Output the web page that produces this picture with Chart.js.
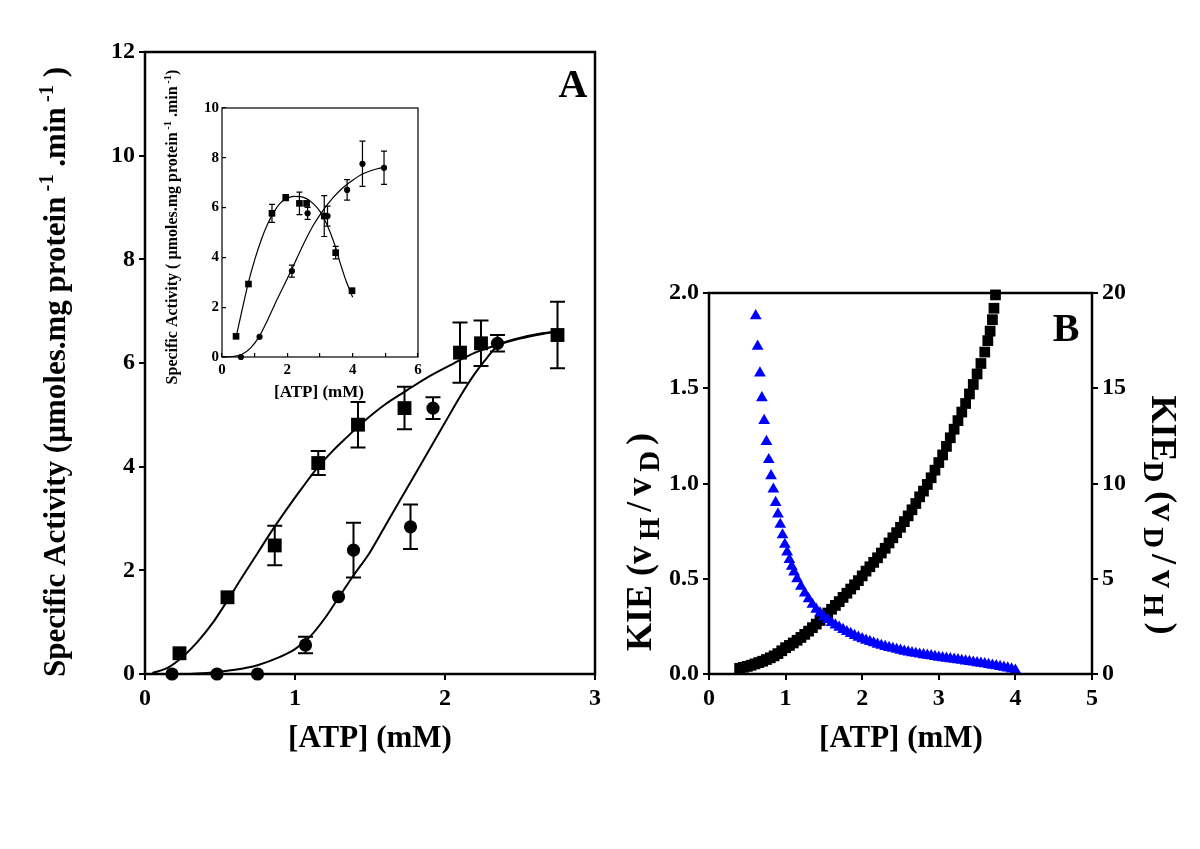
<!DOCTYPE html>
<html>
<head>
<meta charset="utf-8">
<script src="https://cdn.jsdelivr.net/npm/chart.js@4.4.0/dist/chart.umd.min.js"></script>
<style>
  body { margin: 0; background: #fff; }
  #wrap { position: relative; width: 1200px; height: 849px; background: #fff; overflow: hidden; }
  canvas { position: absolute; }
</style>
</head>
<body>
<div id="wrap">
  <canvas id="chartA" width="620" height="780" style="left:0;top:0"></canvas>
  <canvas id="chartInset" width="280" height="360" style="left:150px;top:45px"></canvas>
  <canvas id="chartB" width="580" height="520" style="left:620px;top:260px"></canvas>
</div>
<script>
// ---- panel A, main plot: [ATP] (mM) vs specific activity ----
const aSqX   = [0.23, 0.55, 0.865, 1.155, 1.42, 1.73, 2.10, 2.24, 2.75];
const aSqY   = [0.40, 1.48, 2.48, 4.07, 4.81, 5.13, 6.20, 6.38, 6.54];
const aSqErr = [0, 0, 0.38, 0.23, 0.44, 0.41, 0.58, 0.44, 0.64];
const aCiX   = [0.18, 0.48, 0.75, 1.07, 1.29, 1.39, 1.77, 1.92, 2.35];
const aCiY   = [0, 0, 0, 0.56, 1.49, 2.39, 2.84, 5.13, 6.38];
const aCiErr = [0, 0, 0, 0.16, 0, 0.53, 0.43, 0.21, 0.16];
// fitted curves
const aSqFitX = [0.05, 0.15, 0.25, 0.35, 0.45, 0.55, 0.65, 0.75, 0.85, 0.95, 1.05, 1.15, 1.25, 1.35, 1.45, 1.6, 1.75, 1.9, 2.05, 2.2, 2.35, 2.5, 2.65, 2.77];
const aSqFitY = [0.02, 0.12, 0.33, 0.62, 0.98, 1.42, 1.88, 2.33, 2.78, 3.2, 3.6, 3.98, 4.3, 4.58, 4.85, 5.2, 5.48, 5.75, 5.98, 6.2, 6.35, 6.47, 6.56, 6.62];
const aCiFitX = [0.30, 0.45, 0.6, 0.75, 0.9, 1.0, 1.1, 1.2, 1.29, 1.39, 1.5, 1.6, 1.7, 1.8, 1.9, 2.0, 2.1, 2.2, 2.28, 2.35, 2.45, 2.6, 2.77];
const aCiFitY = [0.0, 0.03, 0.08, 0.17, 0.33, 0.48, 0.72, 1.08, 1.47, 1.9, 2.35, 2.85, 3.35, 3.85, 4.35, 4.85, 5.35, 5.8, 6.1, 6.33, 6.45, 6.55, 6.62];

// ---- panel A, inset ----
const inSqX   = [0.43, 0.81, 1.53, 1.95, 2.37, 2.59, 3.13, 3.48, 3.98];
const inSqY   = [0.83, 2.93, 5.77, 6.40, 6.17, 6.17, 5.66, 4.19, 2.66];
const inSqErr = [0, 0, 0.36, 0.12, 0.45, 0.10, 0.82, 0.25, 0.10];
const inCiX   = [0.58, 1.15, 2.14, 2.62, 3.23, 3.83, 4.30, 4.96];
const inCiY   = [0, 0.81, 3.45, 5.77, 5.66, 6.71, 7.76, 7.60];
const inCiErr = [0, 0, 0.24, 0.24, 0.40, 0.41, 0.91, 0.67];
const inSqFitX = [0.43, 0.6, 0.8, 1.0, 1.2, 1.4, 1.6, 1.8, 2.0, 2.2, 2.4, 2.6, 2.8, 3.0, 3.2, 3.4, 3.5, 3.6, 3.8, 4.0];
const inSqFitY = [0.8, 1.8, 2.95, 3.9, 4.7, 5.35, 5.85, 6.2, 6.38, 6.45, 6.44, 6.35, 6.15, 5.85, 5.35, 4.7, 4.3, 3.85, 3.05, 2.4];
const inCiFitX = [0.0, 0.3, 0.6, 0.9, 1.15, 1.4, 1.7, 2.0, 2.2, 2.5, 2.8, 3.1, 3.4, 3.7, 4.0, 4.3, 4.6, 4.96];
const inCiFitY = [0.0, 0.02, 0.1, 0.4, 0.85, 1.5, 2.35, 3.15, 3.7, 4.55, 5.3, 5.9, 6.4, 6.8, 7.1, 7.35, 7.5, 7.62];

// ---- panel B: KIE (left axis) and KIE_D (right axis) ----
const bSqX = [0.40, 0.45, 0.50, 0.55, 0.60, 0.65, 0.70, 0.75, 0.80, 0.85, 0.90, 0.95, 1.00, 1.05, 1.10, 1.15, 1.20, 1.25, 1.30, 1.35,
              1.40, 1.45, 1.50, 1.55, 1.60, 1.65, 1.70, 1.75, 1.80, 1.85, 1.90, 1.95, 2.00, 2.05, 2.10, 2.15, 2.20, 2.25, 2.30, 2.35,
              2.40, 2.45, 2.50, 2.55, 2.60, 2.65, 2.70, 2.75, 2.80, 2.85, 2.90, 2.95, 3.00, 3.05, 3.10, 3.15, 3.20, 3.25, 3.30, 3.35,
              3.40, 3.45, 3.50, 3.55, 3.60, 3.64, 3.67, 3.70, 3.72, 3.74];
const bSqY = [0.030, 0.035, 0.040, 0.046, 0.053, 0.060, 0.067, 0.076, 0.085, 0.095, 0.107, 0.122, 0.138, 0.150, 0.163, 0.177, 0.192, 0.208, 0.225, 0.243,
              0.262, 0.281, 0.300, 0.320, 0.340, 0.360, 0.380, 0.402, 0.424, 0.446, 0.468, 0.490, 0.515, 0.540, 0.563, 0.586, 0.610, 0.635, 0.660, 0.688,
              0.715, 0.742, 0.770, 0.800, 0.830, 0.862, 0.895, 0.930, 0.960, 0.995, 1.030, 1.070, 1.110, 1.150, 1.195, 1.240, 1.285, 1.330, 1.375, 1.420,
              1.470, 1.520, 1.575, 1.630, 1.690, 1.750, 1.800, 1.860, 1.920, 1.990];
const bTriX = [0.61, 0.635, 0.665, 0.69, 0.72, 0.75, 0.78, 0.81, 0.84, 0.87, 0.90, 0.93, 0.96, 0.99, 1.02, 1.05, 1.08, 1.11, 1.15, 1.20,
               1.25, 1.30, 1.35, 1.40, 1.45, 1.50, 1.55, 1.60, 1.65, 1.70, 1.75, 1.80, 1.85, 1.90, 1.95, 2.00, 2.05, 2.10, 2.15, 2.20,
               2.25, 2.30, 2.35, 2.40, 2.45, 2.50, 2.55, 2.60, 2.65, 2.70, 2.75, 2.80, 2.85, 2.90, 2.95, 3.00, 3.05, 3.10, 3.15, 3.20,
               3.25, 3.30, 3.35, 3.40, 3.45, 3.50, 3.55, 3.60, 3.65, 3.70, 3.75, 3.80, 3.85, 3.90, 3.95, 4.00];
const bTriY = [18.8, 17.2, 15.8, 14.5, 13.3, 12.2, 11.25, 10.4, 9.7, 9.0, 8.4, 7.85, 7.3, 6.8, 6.4, 6.0, 5.65, 5.35, 5.0, 4.6,
               4.25, 3.95, 3.65, 3.4, 3.2, 3.0, 2.85, 2.7, 2.57, 2.45, 2.33, 2.22, 2.12, 2.02, 1.93, 1.85, 1.77, 1.70, 1.63, 1.56,
               1.50, 1.44, 1.39, 1.34, 1.29, 1.24, 1.19, 1.15, 1.11, 1.08, 1.04, 1.01, 0.98, 0.95, 0.91, 0.88, 0.85, 0.82, 0.80, 0.77,
               0.74, 0.71, 0.68, 0.65, 0.62, 0.59, 0.56, 0.53, 0.50, 0.46, 0.43, 0.39, 0.35, 0.31, 0.26, 0.20];

const FONT = '"Liberation Serif", "Times New Roman", Times, serif';
Chart.defaults.font.family = FONT;
Chart.defaults.font.weight = 'bold';
Chart.defaults.color = '#000';

const pts = (xs, ys) => xs.map((x, i) => ({ x: x, y: ys[i] }));

// text with super/subscripts, centred on (x, y); segment = [text, 'sup'|'sub'|'', letterSpacing]
function drawRich(ctx, segs, x, y, rot, size, small) {
  small = small || 0.66;
  ctx.save();
  ctx.translate(x, y);
  ctx.rotate(rot);
  ctx.fillStyle = '#000';
  ctx.textAlign = 'left';
  ctx.textBaseline = 'alphabetic';
  let total = 0;
  const parts = segs.map(s => {
    const kind = s[1] || '';
    const sp = (s[2] || 0) + 'px';
    const sz = kind ? size * small : size;
    ctx.font = 'bold ' + sz + 'px ' + FONT;
    ctx.letterSpacing = sp;
    const w = ctx.measureText(s[0]).width;
    total += w;
    return { t: s[0], kind, sz, w, sp };
  });
  let cx = -total / 2;
  const base = size * 0.33;
  parts.forEach(p => {
    ctx.font = 'bold ' + p.sz + 'px ' + FONT;
    ctx.letterSpacing = p.sp;
    const dy = p.kind === 'sup' ? -size * 0.38 : p.kind === 'sub' ? size * 0.22 : 0;
    ctx.fillText(p.t, cx, base + dy);
    cx += p.w;
  });
  ctx.restore();
}

function errorBars(sets, cap, lw) {
  return {
    id: 'errorBars',
    beforeDatasetsDraw(chart) {
      const ctx = chart.ctx, xs = chart.scales.x, ys = chart.scales.y;
      ctx.save();
      ctx.strokeStyle = '#000';
      ctx.lineWidth = lw;
      sets.forEach(s => {
        s.x.forEach((xv, i) => {
          const e = s.err[i];
          if (!e) return;
          const px = xs.getPixelForValue(xv);
          const top = ys.getPixelForValue(s.y[i] + e);
          const bot = ys.getPixelForValue(s.y[i] - e);
          ctx.beginPath();
          ctx.moveTo(px, top); ctx.lineTo(px, bot);
          ctx.moveTo(px - cap / 2, top); ctx.lineTo(px + cap / 2, top);
          ctx.moveTo(px - cap / 2, bot); ctx.lineTo(px + cap / 2, bot);
          ctx.stroke();
        });
      });
      ctx.restore();
    }
  };
}

function frame(lw) {
  return {
    id: 'frame',
    afterDraw(chart) {
      const a = chart.chartArea, ctx = chart.ctx;
      ctx.save();
      ctx.strokeStyle = '#000';
      ctx.lineWidth = lw;
      ctx.strokeRect(a.left, a.top, a.right - a.left, a.bottom - a.top);
      ctx.restore();
    }
  };
}

function texts(list) {
  return {
    id: 'texts',
    afterDraw(chart) {
      list.forEach(t => drawRich(chart.ctx, t.segs, t.x, t.y, t.rot || 0, t.size, t.small));
    }
  };
}

function axis(min, max, step, size, extra) {
  return Object.assign({
    type: 'linear', min: min, max: max,
    ticks: { stepSize: step, font: { size: size, weight: 'bold' }, color: '#000', padding: 4, maxRotation: 0 },
    grid: { display: true, drawOnChartArea: false, drawTicks: true, tickLength: 6, color: '#000', lineWidth: 2 },
    border: { display: false }
  }, extra);
}

const common = {
  responsive: false, animation: false, devicePixelRatio: 1,
  plugins: { legend: { display: false }, tooltip: { enabled: false } }
};

const markers = (data, style, r, color) => ({
  data: data, pointStyle: style, pointRadius: r, pointBackgroundColor: color,
  pointBorderColor: color, pointBorderWidth: 0, showLine: false, clip: false
});
const curve = (data, lw) => ({
  data: data, showLine: true, pointRadius: 0, borderColor: '#000', borderWidth: lw,
  cubicInterpolationMode: 'monotone', tension: 0.4, fill: false, clip: false
});

// ---- panel A ----
new Chart(document.getElementById('chartA'), {
  type: 'scatter',
  data: { datasets: [
    markers(pts(aSqX, aSqY), 'rect', 9.8, '#000'),
    markers(pts(aCiX, aCiY), 'circle', 6.6, '#000'),
    curve(pts(aSqFitX, aSqFitY), 2),
    curve(pts(aCiFitX, aCiFitY), 2)
  ] },
  options: Object.assign({}, common, {
    layout: { padding: { top: 52, right: 25, left: 0, bottom: 0 } },
    scales: {
      x: axis(0, 3, 1, 24, { afterFit(s) { s.height = 106; } }),
      y: axis(0, 12, 2, 24, { afterFit(s) { s.width = 145; } })
    }
  }),
  plugins: [
    errorBars([{ x: aSqX, y: aSqY, err: aSqErr }, { x: aCiX, y: aCiY, err: aCiErr }], 15, 2),
    frame(2.5),
    texts([
      { segs: [['Specific Activity (µmoles.mg protein'], [' -1', 'sup'], [' .min'], [' -1', 'sup'], [' )']], x: 55, y: 372, rot: -Math.PI / 2, size: 31 },
      { segs: [['[ATP] (mM)']], x: 370, y: 737, size: 31 },
      { segs: [['A']], x: 573, y: 84, size: 40 }
    ])
  ]
});

// ---- inset ----
new Chart(document.getElementById('chartInset'), {
  type: 'scatter',
  data: { datasets: [
    markers(pts(inSqX, inSqY), 'rect', 4.7, '#000'),
    markers(pts(inCiX, inCiY), 'circle', 3.1, '#000'),
    curve(pts(inSqFitX, inSqFitY), 1.2),
    curve(pts(inCiFitX, inCiFitY), 1.2)
  ] },
  options: Object.assign({}, common, {
    layout: { padding: { top: 63, right: 12, left: 0, bottom: 0 } },
    scales: {
      x: axis(0, 6, 1, 15, {
        ticks: { stepSize: 1, font: { size: 15, weight: 'bold' }, color: '#000', padding: 8, maxRotation: 0,
                 callback: v => (v % 2 === 0 ? v : '') },
        grid: { display: true, drawOnChartArea: false, drawTicks: true, tickLength: -4, color: '#000', lineWidth: 1.2 },
        afterFit(s) { s.height = 48; }
      }),
      y: axis(0, 10, 2, 15, {
        ticks: { stepSize: 2, font: { size: 15, weight: 'bold' }, color: '#000', padding: 7 },
        grid: { display: true, drawOnChartArea: false, drawTicks: true, tickLength: -4, color: '#000', lineWidth: 1.2 },
        afterFit(s) { s.width = 72; }
      })
    }
  }),
  plugins: [
    errorBars([{ x: inSqX, y: inSqY, err: inSqErr }, { x: inCiX, y: inCiY, err: inCiErr }], 6, 1.2),
    frame(1.2),
    texts([
      { segs: [['Specific Activity ( µmoles.mg protein'], [' -1', 'sup'], [' .min'], [' -1', 'sup'], [')']], x: 22, y: 182, rot: -Math.PI / 2, size: 16 },
      { segs: [['[ATP] (mM)']], x: 169, y: 346, size: 17 }
    ])
  ]
});

// ---- panel B ----
new Chart(document.getElementById('chartB'), {
  type: 'scatter',
  data: { datasets: [
    Object.assign(markers(pts(bTriX, bTriY), 'triangle', 6.8, '#0000ff'), { yAxisID: 'y2' }),
    Object.assign(markers(pts(bSqX, bSqY), 'rect', 7.6, '#000'), { yAxisID: 'y' })
  ] },
  options: Object.assign({}, common, {
    layout: { padding: { top: 33, right: 0, left: 0, bottom: 0 } },
    scales: {
      x: axis(0, 5, 1, 24, { afterFit(s) { s.height = 106; } }),
      y: axis(0, 2, 0.5, 24, {
        position: 'left',
        ticks: { stepSize: 0.5, font: { size: 24, weight: 'bold' }, color: '#000', padding: 4, callback: v => v.toFixed(1) },
        afterFit(s) { s.width = 89; }
      }),
      y2: axis(0, 20, 5, 24, { position: 'right', afterFit(s) { s.width = 108; } })
    }
  }),
  plugins: [
    frame(2.5),
    texts([
      { segs: [['KIE ('], ['v', '', 6], ['H', 'sub', 6], ['/', '', 6], ['v', '', 6], ['D', 'sub', 6], [')']], x: 19, y: 282, rot: -Math.PI / 2, size: 36, small: 0.8 },
      { segs: [['KIE'], ['D', 'sub'], [' ('], ['v', '', 6], ['D', 'sub', 6], ['/', '', 6], ['v', '', 6], ['H', 'sub', 6], [')']], x: 544, y: 255, rot: Math.PI / 2, size: 36, small: 0.8 },
      { segs: [['[ATP] (mM)']], x: 281, y: 477, size: 31 },
      { segs: [['B']], x: 446, y: 68, size: 40 }
    ])
  ]
});
</script>
</body>
</html>
